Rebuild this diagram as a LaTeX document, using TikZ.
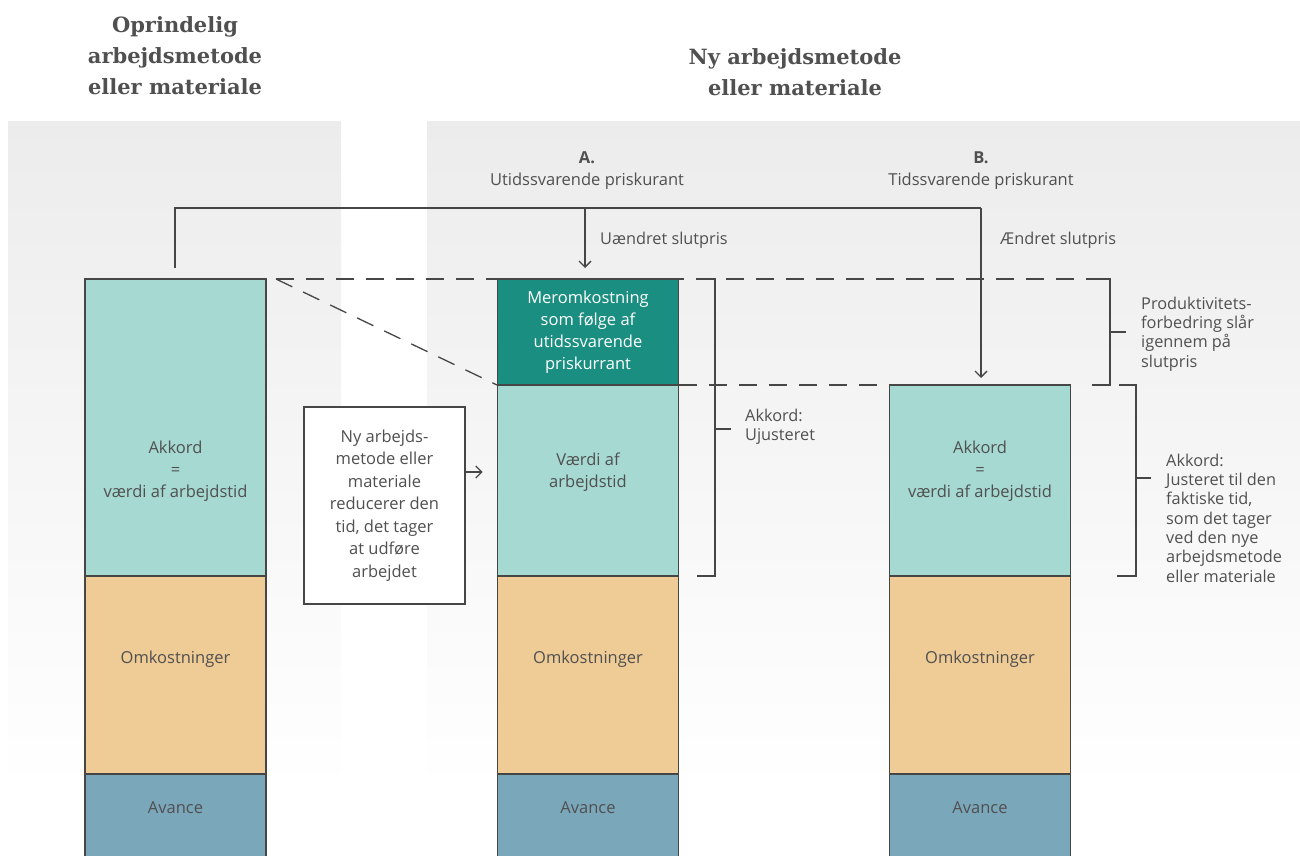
\documentclass[tikz,border=0pt]{standalone}
\usepackage{fontspec}
\setmainfont{Open Sans}
\newfontfamily\titlefont{DejaVu Serif}
\usetikzlibrary{arrows.meta}
\definecolor{bg}{RGB}{236,236,236}
\definecolor{lteal}{RGB}{165,217,210}
\definecolor{dteal}{RGB}{26,142,128}
\definecolor{orng}{RGB}{239,203,150}
\definecolor{blu}{RGB}{123,167,187}
\definecolor{ink}{RGB}{80,80,80}
\definecolor{edge}{RGB}{70,70,70}
\begin{document}
\begin{tikzpicture}[x=1pt,y=-1pt,
 seg/.style={draw=edge,line width=1.3pt,minimum width=181pt,inner sep=0pt,outer sep=0pt},
 lbl/.style={text=ink,font=\fontsize{16.5}{22}\selectfont,align=center},
 side/.style={text=ink,font=\fontsize{16.3}{19.3}\selectfont,align=left,anchor=west,inner sep=0pt},
 ttl/.style={text=ink,font=\titlefont\bfseries\fontsize{21}{31}\selectfont,align=center},
 ln/.style={draw=edge,line width=1.3pt},
 dsh/.style={draw=edge,line width=1.3pt,dash pattern=on 18pt off 12pt},
 arr/.style={ln,-{Straight Barb[length=6pt,width=12pt]}}]
\useasboundingbox (0,0) rectangle (1300,855);
% backgrounds
\shade[top color=bg,bottom color=white] (8,121) rectangle (341,790);
\shade[top color=bg,bottom color=white] (427,121) rectangle (1300,790);
% titles
\node[ttl] (t1) at (175,56) {Oprindelig\\arbejdsmetode\\eller materiale};
\node[ttl] (t2) at (795,72) {Ny arbejdsmetode\\eller materiale};
% headings
\node[text=ink,font=\fontsize{16.5}{19}\selectfont\bfseries] (ha) at (587,158) {A.};
\node[lbl] (hat) at (587,181) {Utidssvarende priskurant};
\node[text=ink,font=\fontsize{16.5}{19}\selectfont\bfseries] (hb) at (981,158) {B.};
\node[lbl] (hbt) at (981,181) {Tidssvarende priskurant};
% dashed guides
\coordinate (d0) at (276,279);
\coordinate (d1) at (1110,279);
\draw[dsh] (d0) -- (d1);
\draw[dsh] (d0) -- (497,385);
\draw[dsh] (679,385) -- (889,385);
% column 1
\node[seg,fill=lteal,minimum height=297pt] (c1a) at (175.5,427.5) {};
\node[seg,fill=orng,minimum height=198pt] (c1b) at (175.5,675) {};
\node[seg,fill=blu,minimum height=86pt] (c1c) at (175.5,817) {};
% column 2
\node[seg,fill=dteal,minimum height=106pt] (c2m) at (588,332) {};
\node[seg,fill=lteal,minimum height=191pt] (c2a) at (588,480.5) {};
\node[seg,fill=orng,minimum height=198pt] (c2b) at (588,675) {};
\node[seg,fill=blu,minimum height=86pt] (c2c) at (588,817) {};
% column 3
\node[seg,fill=lteal,minimum height=191pt] (c3a) at (980,480.5) {};
\node[seg,fill=orng,minimum height=198pt] (c3b) at (980,675) {};
\node[seg,fill=blu,minimum height=86pt] (c3c) at (980,817) {};
% column texts
\node[lbl] (l1a) at (175.5,471) {Akkord\\=\\værdi af arbejdstid};
\node[lbl] (l1b) at (175.5,659) {Omkostninger};
\node[lbl] (l1c) at (175.5,808) {Avance};
\node[lbl,text=white] (l2m) at (588,332) {Meromkostning\\som følge af\\utidssvarende\\priskurrant};
\node[lbl] (l2a) at (588,472) {Værdi af\\arbejdstid};
\node[lbl] (l2b) at (588,659) {Omkostninger};
\node[lbl] (l2c) at (588,808) {Avance};
\node[lbl] (l3a) at (980,471) {Akkord\\=\\værdi af arbejdstid};
\node[lbl] (l3b) at (980,659) {Omkostninger};
\node[lbl] (l3c) at (980,808) {Avance};
% text box
\node[draw=edge,line width=1.3pt,fill=white,minimum width=161pt,minimum height=197pt,inner sep=0pt,lbl,font=\fontsize{16.5}{22.5}\selectfont] (tb) at (384.5,505.5) {Ny arbejds-\\metode eller\\materiale\\reducerer den\\tid, det tager\\at udføre\\arbejdet};
\draw[arr] (tb.east |- 0,472) -- ++(17,0) coordinate (tbe);
% connectors
\coordinate (s1) at (175,268);
\coordinate (kA) at (585,208);
\coordinate (kB) at (981,208);
\draw[ln] (s1) -- (s1 |- kA) -- (kB);
\draw[arr] (kA) -- (kA |- 0,268) coordinate (eA);
\draw[arr] (kB) -- (kB |- 0,378) coordinate (eB);
\node[side] (ua) at (600,240) {Uændret slutpris};
\node[side] (ub) at (1000,240) {Ændret slutpris};
% braces
\draw[ln] (698,279) -- (715,279) -- (715,576) -- (697,576);
\draw[ln] (715,429) -- (731,429);
\node[side] (br1) at (745,427) {Akkord:\\Ujusteret};
\draw[ln] (1095,279) -- (1110,279) -- (1110,385) -- (1092,385);
\draw[ln] (1110,332) -- (1126,332);
\node[side] (br2) at (1141,334) {Produktivitets-\\forbedring slår\\igennem på\\slutpris};
\draw[ln] (1119,385) -- (1136,385) -- (1136,576) -- (1117,576);
\draw[ln] (1136,478) -- (1151,478);
\node[side] (br3) at (1166,518) {Akkord:\\Justeret til den\\faktiske tid,\\som det tager\\ved den nye\\arbejdsmetode\\eller materiale};
\end{tikzpicture}
\end{document}
